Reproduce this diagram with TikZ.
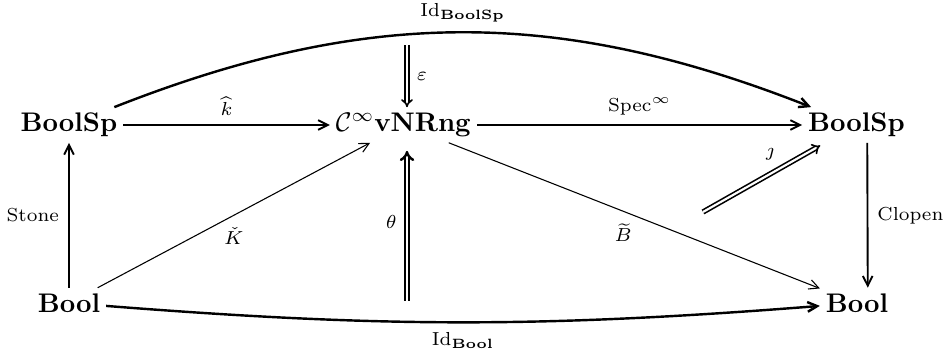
\documentclass[tikz,border=0pt]{standalone}
\usepackage{amsmath}
\usepackage{tikz}
\usetikzlibrary{positioning, arrows.meta, calc}

\begin{document}
\begin{tikzpicture}[
  x=0.3717pt, y=-0.3717pt,
  >={Straight Barb[length=3.6pt, width=3.6pt]},
  obj/.style={inner sep=2pt},
  map/.style={->, line width=0.7pt},
  thinmap/.style={->, line width=0.4pt},
  idmap/.style={->, line width=0.9pt},
  twocell/.style={-{Implies}, double, double distance=0.8pt, line width=0.6pt},
]
  \useasboundingbox (0,0) rectangle (944,354);

  \node[obj] (bsl) at (69,125) {$\mathbf{BoolSp}$};
  \node[obj] (cvn) at (403.5,125) {$\mathcal{C}^{\infty}\mathbf{vNRng}$};
  \node[obj] (bsr) at (856.5,125) {$\mathbf{BoolSp}$};
  \node[obj] (bl) at (69,303) {$\mathbf{Bool}$};
  \node[obj] (br) at (857,303) {$\mathbf{Bool}$};

  \coordinate (epsA) at (407,45);
  \coordinate (thA) at (407,301);
  \coordinate (jA) at (703,212);

  \draw[map] (bsl) -- (cvn) node[midway, above] {$\scriptstyle\widehat{k}$};
  \draw[map] (cvn) -- (bsr) node[midway, above] {$\scriptstyle\mathrm{Spec}^{\infty}$};
  \draw[map] (bl) -- (bsl) node[midway, left] {$\scriptstyle\mathrm{Stone}$};
  \draw[map] ([xshift=4pt]bsr.south) -- ([xshift=4pt]br.north)
    node[midway, right] {$\scriptstyle\mathrm{Clopen}$};
  \draw[thinmap] (bl) -- (cvn) node[pos=0.5, below=1pt] {$\scriptstyle\check{K}$};
  \draw[thinmap] (cvn) -- (br) node[pos=0.47, below=1pt] {$\scriptstyle\widetilde{B}$};

  \draw[idmap] (bsl) to[bend left=21.5] node[midway, above] {$\scriptstyle\mathrm{Id}_{\mathbf{BoolSp}}$} (bsr);
  \draw[idmap] (bl) to[bend right=4.5] node[midway, below] {$\scriptstyle\mathrm{Id}_{\mathbf{Bool}}$} (br);

  \draw[twocell] (epsA) -- (epsA |- cvn.north) node[midway, right] {$\scriptstyle\varepsilon$};
  \draw[twocell, line width=0.9pt, shorten >=3pt] (thA) -- (thA |- cvn.south)
    node[midway, left] {$\scriptstyle\theta$};
  \draw[twocell, shorten >=2pt] (jA) -- (bsr) node[pos=0.55, above=1.5pt] {$\scriptstyle\jmath$};
\end{tikzpicture}
\end{document}
